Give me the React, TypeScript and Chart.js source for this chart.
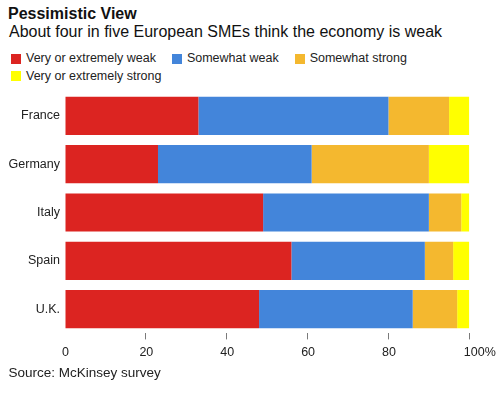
import React, { useEffect, useRef } from "react";
import { Chart, registerables } from "chart.js";

Chart.register(...registerables);

const countries = ["France", "Germany", "Italy", "Spain", "U.K."];
const veryWeak = [33, 23, 49, 56, 48];
const somewhatWeak = [47, 38, 41, 33, 38];
const somewhatStrong = [15, 29, 8, 7, 11];
const veryStrong = [5, 10, 2, 4, 3];
const seriesNames = [
  "Very or extremely weak",
  "Somewhat weak",
  "Somewhat strong",
  "Very or extremely strong",
];
const seriesColors = ["#DC2421", "#4385DA", "#F4B82F", "#FFFF00"];
const xTickValues = [0, 20, 40, 60, 80, 100];
const xTickLabels = ["0", "20", "40", "60", "80", "100%"];

const FONT = '"Liberation Sans", Arial, Helvetica, sans-serif';

const xLabelPlugin = {
  id: "xLabels",
  afterDraw(chart: any) {
    const scale = chart.scales.x;
    const ctx = chart.ctx;
    ctx.save();
    ctx.font = `12.5px ${FONT}`;
    ctx.fillStyle = "#222";
    ctx.textBaseline = "alphabetic";
    xTickValues.forEach((v, i) => {
      const px = scale.getPixelForValue(v);
      const last = i === xTickValues.length - 1;
      ctx.textAlign = last ? "left" : "center";
      ctx.fillText(xTickLabels[i], last ? px - 5.5 : px + 0.5, chart.chartArea.bottom + 23);
    });
    ctx.restore();
  },
};

export default function App() {
  const canvasRef = useRef<HTMLCanvasElement | null>(null);

  useEffect(() => {
    if (!canvasRef.current) return;
    const values = [veryWeak, somewhatWeak, somewhatStrong, veryStrong];
    const chart = new Chart(canvasRef.current, {
      type: "bar",
      data: {
        labels: countries,
        datasets: seriesNames.map((name, i) => ({
          label: name,
          data: values[i],
          backgroundColor: seriesColors[i],
          borderWidth: 0,
          categoryPercentage: 0.79,
          barPercentage: 1,
        })),
      },
      options: {
        indexAxis: "y",
        animation: false,
        responsive: true,
        maintainAspectRatio: false,
        layout: { padding: { top: 3.6, right: 30.7, left: 0, bottom: 0 } },
        plugins: {
          legend: { display: false },
          tooltip: { enabled: false },
          title: { display: false },
        },
        scales: {
          x: {
            stacked: true,
            min: 0,
            max: 100,
            afterFit: (s: any) => {
              s.height = 34.6;
              s.paddingLeft = 0;
              s.paddingRight = 0;
            },
            afterBuildTicks: (s: any) => {
              s.ticks = xTickValues.map((v) => ({ value: v }));
            },
            ticks: { display: false },
            border: { display: false },
            grid: {
              drawOnChartArea: false,
              drawTicks: true,
              tickLength: 6,
              lineWidth: 1,
              color: (c: any) => (c.tick && c.tick.value === 0 ? "rgba(0,0,0,0)" : "#7a7a7a"),
            },
          },
          y: {
            stacked: true,
            afterFit: (s: any) => {
              s.width = 65;
              s.paddingTop = 0;
              s.paddingBottom = 0;
            },
            border: { display: false },
            grid: { display: false, drawTicks: false },
            ticks: {
              padding: 5,
              color: "#222",
              font: { family: FONT, size: 12.5 },
            },
          },
        },
      },
      plugins: [xLabelPlugin],
    } as any);
    return () => chart.destroy();
  }, []);

  return (
    <div
      style={{
        position: "fixed",
        left: 0,
        top: 0,
        width: 500,
        height: 394,
        background: "#fff",
        fontFamily: FONT,
        color: "#222",
      }}
    >
      <div
        style={{
          position: "absolute",
          left: 8,
          top: 4.8,
          fontSize: 16,
          fontWeight: "bold",
          color: "#111",
          lineHeight: "normal",
          whiteSpace: "nowrap",
        }}
      >
        Pessimistic View
      </div>
      <div
        style={{
          position: "absolute",
          left: 9,
          top: 23.2,
          fontSize: 16,
          color: "#111",
          lineHeight: "normal",
          whiteSpace: "nowrap",
        }}
      >
        About four in five European SMEs think the economy is weak
      </div>
      <div
        style={{
          position: "absolute",
          left: 11,
          top: 50.2,
          width: 470,
          display: "flex",
          flexWrap: "wrap",
          fontSize: 12.5,
          lineHeight: "17.5px",
        }}
      >
        {seriesNames.map((name, i) => (
          <div
            key={name}
            style={{ display: "flex", alignItems: "center", marginRight: 16, whiteSpace: "nowrap" }}
          >
            <span
              style={{
                display: "inline-block",
                width: 10,
                height: 10,
                background: seriesColors[i],
                marginRight: 5,
              }}
            />
            <span>{name}</span>
          </div>
        ))}
      </div>
      <div style={{ position: "absolute", left: 0, top: 88, width: 500, height: 280 }}>
        <canvas ref={canvasRef} />
      </div>
      <div
        style={{
          position: "absolute",
          left: 8.5,
          top: 364.8,
          fontSize: 13.5,
          lineHeight: "normal",
          whiteSpace: "nowrap",
        }}
      >
        Source: McKinsey survey
      </div>
    </div>
  );
}
